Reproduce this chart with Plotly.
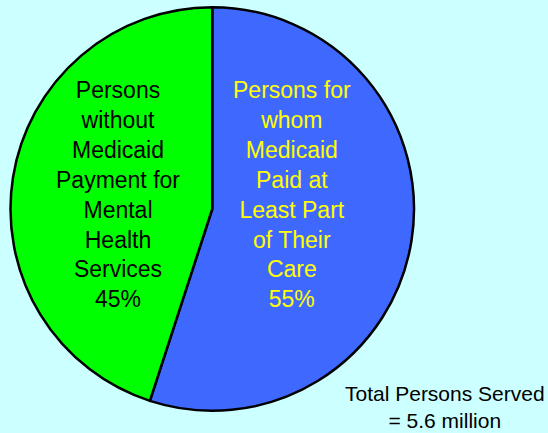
import plotly.graph_objects as go

labels = ["Persons for whom Medicaid Paid at Least Part of Their Care",
          "Persons without Medicaid Payment for Mental Health Services"]
values = [55, 45]
colors = ["#3f68ff", "#00ff00"]
label_lines = [
    ["Persons for", "whom", "Medicaid", "Paid at", "Least Part", "of Their", "Care"],
    ["Persons", "without", "Medicaid", "Payment for", "Mental", "Health", "Services"],
]
label_colors = ["#ffff00", "#000000"]
total_note = ["Total Persons Served", "= 5.6 million"]

W, H = 548, 433
fig = go.Figure(go.Pie(
    labels=labels, values=values, sort=False, direction="clockwise", rotation=0,
    marker=dict(colors=colors, line=dict(color="#000000", width=2.5)),
    textinfo="none", hoverinfo="label+percent", showlegend=False,
    domain=dict(x=[10.5 / W, 414 / W], y=[1 - 411 / H, 1 - 7 / H]),
))

label_x = [292, 118]
for lines, v, c, xp in zip(label_lines, values, label_colors, label_x):
    fig.add_annotation(
        x=xp / W, y=1 - 194 / H, xref="paper", yref="paper",
        text="<br>".join(lines + [f"{v}%"]), showarrow=False,
        font=dict(family="Liberation Sans, Arial", size=23, color=c),
        align="center", xanchor="center", yanchor="middle",
    )

fig.add_annotation(
    x=445 / W, y=1 - 407 / H, xref="paper", yref="paper",
    text="<br>".join(total_note), showarrow=False,
    font=dict(family="Liberation Sans, Arial", size=21, color="#000000"),
    align="center", xanchor="center", yanchor="middle",
)

fig.update_layout(
    width=W, height=H, margin=dict(l=0, r=0, t=0, b=0),
    paper_bgcolor="#ccffff", plot_bgcolor="#ccffff",
)
fig.write_html("out.html")
